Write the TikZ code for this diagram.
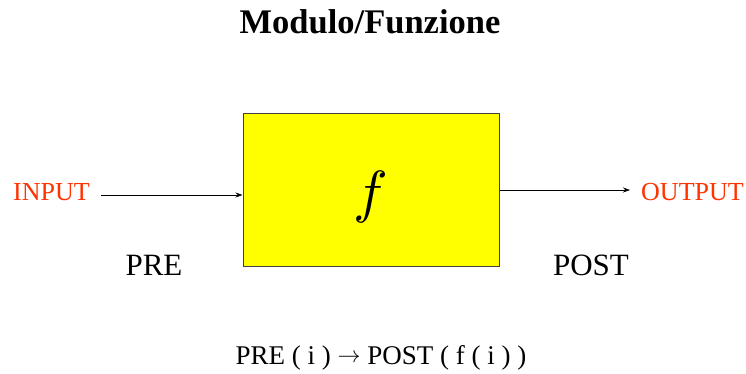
\documentclass[tikz,border=0pt]{standalone}
\usepackage{graphicx}
\usepackage{fontspec}
\setmainfont{Liberation Serif}
\usetikzlibrary{arrows.meta}
\definecolor{redtxt}{HTML}{FF3300}
\definecolor{boxyellow}{HTML}{FFFF00}
\definecolor{boxline}{HTML}{404040}
\newcommand{\bigarrow}{\raisebox{2.5pt}{\scalebox{2.3}{\normalsize$\rightarrow$}}}
\begin{document}
\begin{tikzpicture}[x=1pt,y=-1pt,
  lbl/.style={inner sep=0pt,anchor=center},
  redlbl/.style={lbl,text=redtxt,font=\fontsize{26}{28}\selectfont},
  biglbl/.style={lbl,font=\fontsize{31}{33}\selectfont},
  conn/.style={-{Stealth[length=7pt,width=5pt]},line width=0.8pt}]
\useasboundingbox (0,0) rectangle (746,374);
\node[lbl,font=\fontsize{34.5}{36}\selectfont\bfseries] (title) at (370,22) {Modulo/Funzione};
\node[draw=boxline,fill=boxyellow,line width=1pt,minimum width=256pt,minimum height=152pt,inner sep=0pt] (f) at (371,190) {};
\node[lbl] (fl) at (371,197) {\scalebox{5.8}{$f$}};
\node[redlbl,anchor=east] (in) at (90,192) {INPUT};
\node[redlbl,anchor=west] (out) at (641,192) {OUTPUT};
\coordinate (inS) at (101,195);
\coordinate (outE) at (630,190);
\draw[conn] (inS) -- (f.west |- inS);
\draw[conn] (f.east |- outE) -- (outE);
\node[biglbl] (pre) at (154,265) {PRE};
\node[biglbl] (post) at (591,265) {POST};
\node[lbl,font=\fontsize{27}{29}\selectfont] (formula) at (381,358) {PRE ( i ) \bigarrow{} POST ( f ( i ) )};
\end{tikzpicture}
\end{document}
